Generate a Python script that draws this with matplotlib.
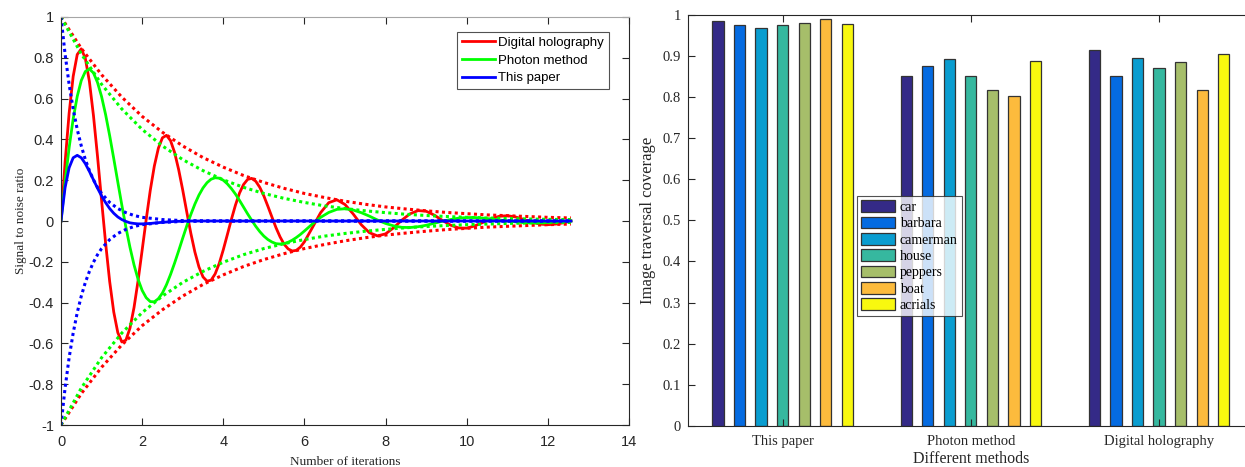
import numpy as np
import matplotlib
matplotlib.use("Agg")
import matplotlib.pyplot as plt

plt.rcParams['axes.unicode_minus'] = False

# ---- left panel data ----
t = [0.0, 0.1, 0.2, 0.3, 0.4, 0.5, 0.6, 0.7, 0.8, 0.9,
     1.0, 1.1, 1.2, 1.3, 1.4, 1.5, 1.6, 1.7, 1.8, 1.9,
     2.0, 2.1, 2.2, 2.3, 2.4, 2.5, 2.6, 2.7, 2.8, 2.9,
     3.0, 3.1, 3.2, 3.3, 3.4, 3.5, 3.6, 3.7, 3.8, 3.9,
     4.0, 4.1, 4.2, 4.3, 4.4, 4.5, 4.6, 4.7, 4.8, 4.9,
     5.0, 5.1, 5.2, 5.3, 5.4, 5.5, 5.6, 5.7, 5.8, 5.9,
     6.0, 6.2, 6.4, 6.6, 6.8, 7.0, 7.2, 7.4, 7.6, 7.8,
     8.0, 8.2, 8.4, 8.6, 8.8, 9.0, 9.2, 9.4, 9.6, 9.8,
     10.0, 10.2, 10.4, 10.6, 10.8, 11.0, 11.2, 11.4, 11.6, 11.8,
     12.0, 12.2, 12.4, 12.57]

digital = [0, 0.286, 0.528, 0.709, 0.816, 0.844, 0.797, 0.684, 0.517, 0.317,
           0.101, -0.109, -0.297, -0.446, -0.547, -0.593, -0.584, -0.525, -0.424, -0.292,
           -0.143, 0.008, 0.150, 0.269, 0.357, 0.408, 0.420, 0.394, 0.336, 0.252,
           0.152, 0.044, -0.060, -0.152, -0.225, -0.274, -0.295, -0.290, -0.259, -0.208,
           -0.141, -0.067, 0.008, 0.078, 0.137, 0.179, 0.204, 0.209, 0.195, 0.165,
           0.123, 0.072, 0.019, -0.033, -0.078, -0.114, -0.137, -0.147, -0.144, -0.128,
           -0.102, -0.031, 0.041, 0.090, 0.104, 0.081, 0.035, -0.018, -0.057, -0.073,
           -0.063, -0.033, 0.004, 0.035, 0.051, 0.048, 0.029, 0.003, -0.020, -0.034,
           -0.035, -0.024, -0.007, 0.011, 0.023, 0.026, 0.020, 0.008, -0.005, -0.015,
           -0.018, -0.015, -0.008, 0]

photon = [0, 0.191, 0.359, 0.501, 0.611, 0.689, 0.733, 0.745, 0.726, 0.679,
          0.610, 0.521, 0.418, 0.306, 0.191, 0.077, -0.031, -0.129, -0.215, -0.286,
          -0.340, -0.376, -0.395, -0.396, -0.381, -0.353, -0.312, -0.262, -0.206, -0.146,
          -0.084, -0.024, 0.032, 0.083, 0.127, 0.162, 0.188, 0.205, 0.212, 0.210,
          0.200, 0.182, 0.159, 0.132, 0.101, 0.068, 0.035, 0.004, -0.026, -0.052,
          -0.074, -0.091, -0.103, -0.111, -0.113, -0.111, -0.104, -0.094, -0.081, -0.066,
          -0.049, -0.014, 0.018, 0.042, 0.057, 0.060, 0.054, 0.041, 0.024, 0.005,
          -0.012, -0.024, -0.031, -0.032, -0.028, -0.021, -0.011, -0.001, 0.007, 0.014,
          0.017, 0.017, 0.014, 0.010, 0.005, 0.0, -0.004, -0.008, -0.009, -0.009,
          -0.007, -0.005, -0.002, 0]

t_paper = [0.0, 0.1, 0.2, 0.3, 0.4, 0.5, 0.6, 0.7, 0.8, 0.9,
           1.0, 1.1, 1.2, 1.3, 1.4, 1.5, 1.6, 1.7, 1.8, 1.9,
           2.0, 2.2, 2.4, 2.6, 2.8, 3.0, 3.2, 12.57]
paper = [0, 0.163, 0.261, 0.310, 0.322, 0.310, 0.281, 0.243, 0.202, 0.161,
         0.123, 0.090, 0.061, 0.038, 0.020, 0.007, -0.002, -0.009, -0.012, -0.014,
         -0.014, -0.012, -0.008, -0.005, -0.002, -0.001, 0, 0]

# envelopes (dotted), upper half; lower half is the mirror
t_env = [0.0, 0.5, 1.0, 1.5, 2.0, 2.5, 3.0, 3.5, 4.0, 4.5, 5.0, 5.5, 6.0, 6.5,
         7.0, 7.5, 8.0, 8.5, 9.0, 9.5, 10.0, 10.5, 11.0, 11.5, 12.0, 12.57]
env_digital = [1, 0.846, 0.717, 0.607, 0.513, 0.435, 0.368, 0.311, 0.264, 0.223,
               0.189, 0.160, 0.135, 0.115, 0.097, 0.082, 0.069, 0.059, 0.050, 0.042,
               0.036, 0.030, 0.026, 0.022, 0.018, 0.015]
env_photon = [1, 0.819, 0.670, 0.549, 0.449, 0.368, 0.301, 0.247, 0.202, 0.165,
              0.135, 0.111, 0.091, 0.074, 0.061, 0.050, 0.041, 0.033, 0.027, 0.022,
              0.018, 0.015, 0.012, 0.010, 0.008, 0.007]
t_env_paper = [0.0, 0.1, 0.2, 0.3, 0.4, 0.5, 0.6, 0.7, 0.8, 0.9, 1.0,
               1.2, 1.4, 1.6, 1.8, 2.0, 2.5, 3.0, 4.0, 12.57]
env_paper = [1, 0.819, 0.670, 0.549, 0.449, 0.368, 0.301, 0.247, 0.202, 0.165, 0.135,
             0.091, 0.061, 0.041, 0.027, 0.018, 0.007, 0.002, 0.0003, 0]

# ---- right panel data ----
methods = ['This paper', 'Photon method', 'Digital holography']
images = ['car', 'barbara', 'camerman', 'house', 'peppers', 'boat', 'acrials']
coverage = {
    'car':      [0.986, 0.852, 0.916],
    'barbara':  [0.976, 0.875, 0.851],
    'camerman': [0.968, 0.894, 0.895],
    'house':    [0.976, 0.851, 0.872],
    'peppers':  [0.981, 0.817, 0.885],
    'boat':     [0.990, 0.804, 0.817],
    'acrials':  [0.977, 0.889, 0.906],
}
bar_colors = ['#342A87', '#056BE1', '#0A9DD0', '#36B89F', '#A6BE6A', '#FCBB3D', '#F8F80F']

ax_col = '#262626'
sans = 'Liberation Sans'
serif = 'Liberation Serif'
dot = (0, (1, 1.1))

fig = plt.figure(figsize=(12.45, 4.67), dpi=100)

# ----- left plot -----
ax1 = fig.add_axes([0.049, 0.0899, 0.4562, 0.8737])
ax1.plot(t, digital, color='red', lw=2, label='Digital holography')
ax1.plot(t_env, env_digital, color='red', lw=2.2, ls=dot)
ax1.plot(t_env, [-v for v in env_digital], color='red', lw=2.2, ls=dot)
ax1.plot(t, photon, color='#00FF00', lw=2, label='Photon method')
ax1.plot(t_env, env_photon, color='#00FF00', lw=2.2, ls=dot)
ax1.plot(t_env, [-v for v in env_photon], color='#00FF00', lw=2.2, ls=dot)
ax1.plot(t_paper, paper, color='blue', lw=2, label='This paper')
ax1.plot(t_env_paper, env_paper, color='blue', lw=2.2, ls=dot)
ax1.plot(t_env_paper, [-v for v in env_paper], color='blue', lw=2.2, ls=dot)

ax1.set_xlim(0, 14)
ax1.set_ylim(-1, 1)
ax1.set_xticks(np.arange(0, 15, 2))
ax1.set_yticks(np.round(np.arange(-1, 1.01, 0.2), 1))
ax1.set_yticklabels(['-1', '-0.8', '-0.6', '-0.4', '-0.2', '0', '0.2', '0.4', '0.6', '0.8', '1'])
ax1.tick_params(direction='in', length=5, width=0.8, top=True, right=True,
                colors=ax_col, labelsize=10.5)
ax1.tick_params(axis='x', pad=7)
ax1.tick_params(axis='y', pad=5)
for lab in ax1.get_xticklabels() + ax1.get_yticklabels():
    lab.set_fontfamily(sans)
for s in ax1.spines.values():
    s.set_color(ax_col)
    s.set_linewidth(0.8)
ax1.spines['top'].set_color('#a6a6a6')
ax1.set_xlabel('Number of iterations', family=serif, fontsize=9.5, color=ax_col, labelpad=5)
ax1.set_ylabel('Signal to noise ratio', family=serif, fontsize=9.5, color=ax_col, labelpad=1)
leg1 = ax1.legend(loc='upper left', bbox_to_anchor=(0.367, 0.9315),
                  bbox_transform=fig.transFigure, prop={'family': sans, 'size': 9.5},
                  frameon=True, fancybox=False, edgecolor=ax_col, handlelength=2.5,
                  labelspacing=0.42, borderpad=0.35, handletextpad=0.3, borderaxespad=0)
leg1.get_frame().set_linewidth(0.8)

# ----- right plot -----
ax2 = fig.add_axes([0.553, 0.0884, 0.4536, 0.8794])
x = np.arange(1, len(methods) + 1)
step = 0.1145
for i, name in enumerate(images):
    ax2.bar(x + (i - 3) * step, coverage[name], width=0.06, color=bar_colors[i],
            edgecolor='#333333', linewidth=0.9, label=name)
ax2.set_xlim(0.5, 3.5)
ax2.set_ylim(0, 1)
ax2.set_xticks(x)
ax2.set_xticklabels(methods)
ax2.set_yticks(np.round(np.arange(0, 1.01, 0.1), 1))
ax2.set_yticklabels(['0', '0.1', '0.2', '0.3', '0.4', '0.5', '0.6', '0.7', '0.8', '0.9', '1'])
ax2.tick_params(direction='in', length=5, width=0.8, top=True, right=True,
                colors=ax_col, labelsize=10.5)
ax2.tick_params(axis='x', pad=7)
ax2.tick_params(axis='y', pad=5.5)
for lab in ax2.get_xticklabels() + ax2.get_yticklabels():
    lab.set_fontfamily(serif)
for s in ax2.spines.values():
    s.set_color(ax_col)
    s.set_linewidth(0.8)
ax2.set_xlabel('Different methods', family=serif, fontsize=11.5, color=ax_col, labelpad=1.5)
ax2.set_ylabel('Image traversal coverage', family=serif, fontsize=12, color=ax_col, labelpad=5)
leg2 = ax2.legend(loc='upper left', bbox_to_anchor=(0.688, 0.580),
                  bbox_transform=fig.transFigure, prop={'family': serif, 'size': 10},
                  frameon=True, fancybox=False, edgecolor=ax_col, handlelength=2.5,
                  handleheight=0.9, labelspacing=0.2, borderpad=0.3,
                  handletextpad=0.3, borderaxespad=0)
leg2.get_frame().set_linewidth(0.8)

fig.savefig('out.png', dpi=100)
